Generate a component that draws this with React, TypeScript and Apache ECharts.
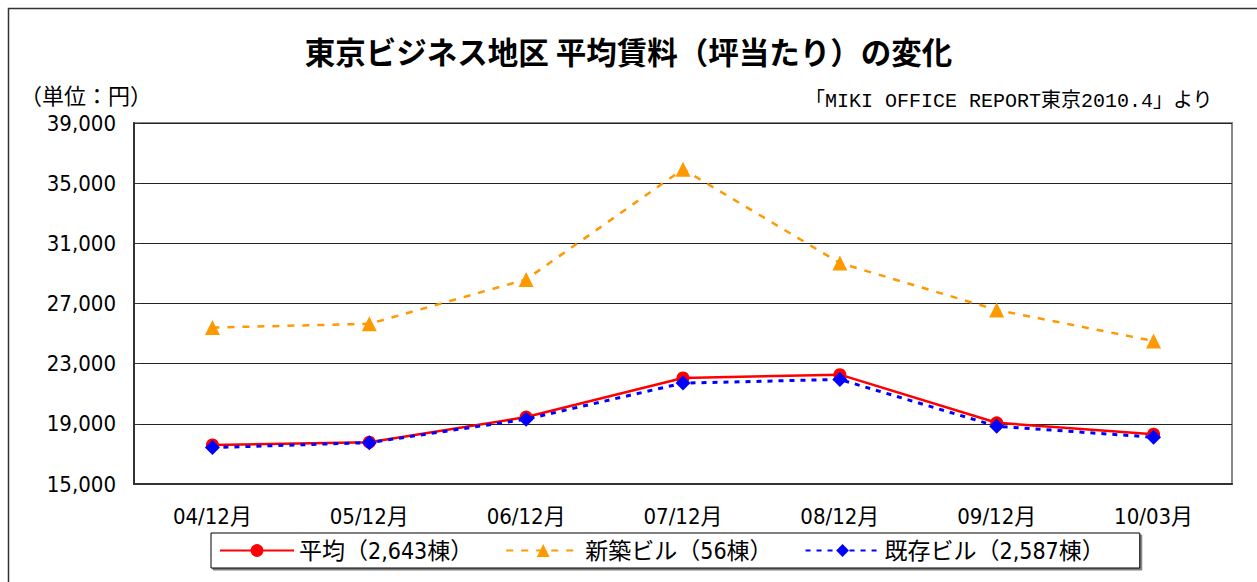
import React, { useEffect, useRef } from "react";
import * as echarts from "echarts";

const categories = ["04/12月", "05/12月", "06/12月", "07/12月", "08/12月", "09/12月", "10/03月"];
const avgValues = [17600, 17780, 19450, 22050, 22270, 19070, 18310];
const newValues = [25400, 25650, 28600, 35930, 29690, 26570, 24510];
const existValues = [17420, 17750, 19310, 21710, 21950, 18840, 18110];
const seriesNames = ["平均（2,643棟）", "新築ビル（56棟）", "既存ビル（2,587棟）"];
const titleText = "東京ビジネス地区 平均賃料（坪当たり）の変化";
const unitText = "（単位：円）";
const sourceText = "「MIKI OFFICE REPORT東京2010.4」より";

const FONT = "'DejaVu Sans Condensed', 'Liberation Sans Narrow', 'Noto Sans CJK JP', sans-serif";
const MONO = "'Liberation Mono', 'Noto Sans CJK JP', monospace";
const CJK = "'Noto Sans CJK JP', sans-serif";

export default function App() {
  const ref = useRef<HTMLDivElement>(null);
  useEffect(() => {
    if (!ref.current) return;
    const chart = echarts.init(ref.current, null, { renderer: "svg" });
    chart.setOption({
      animation: false,
      backgroundColor: "#fff",
      title: {
        text: titleText,
        left: "center",
        top: 31,
        textStyle: { fontFamily: CJK, fontSize: 30.5, fontWeight: "bold", color: "#000" },
      },
      graphic: [
        {
          type: "rect",
          shape: { x: 8.5, y: 8.5, width: 1270, height: 600 },
          style: { fill: "none", stroke: "#333", lineWidth: 1.5 },
          silent: true,
        },
        {
          type: "text",
          left: 20,
          top: 83,
          style: { text: unitText, fontFamily: CJK, fontSize: 22, fill: "#000" },
        },
        {
          type: "text",
          right: 44,
          top: 91,
          style: { text: sourceText, fontFamily: MONO, fontSize: 20, fill: "#000" },
        },
      ],
      grid: {
        left: 134,
        right: 25,
        top: 123,
        bottom: 98,
        show: true,
        borderColor: "#888",
        borderWidth: 2,
        backgroundColor: "#fff",
      },
      legend: {
        left: 211,
        top: 533,
        itemGap: 32,
        itemWidth: 74,
        itemHeight: 16,
        padding: [6, 35, 6, 8],
        borderColor: "#000",
        borderWidth: 1,
        backgroundColor: "#fff",
        shadowColor: "rgba(0,0,0,0.5)",
        shadowOffsetX: 2,
        shadowOffsetY: 2,
        shadowBlur: 0,
        textStyle: { fontFamily: FONT, fontSize: 23, color: "#000" },
        data: seriesNames,
      },
      xAxis: {
        type: "category",
        data: categories,
        boundaryGap: true,
        axisLine: { lineStyle: { color: "#333", width: 2 } },
        axisTick: { inside: true, length: 6, lineStyle: { color: "#333" } },
        axisLabel: { fontFamily: FONT, fontSize: 22, color: "#000", margin: 21 },
      },
      yAxis: {
        type: "value",
        min: 15000,
        max: 39000,
        interval: 4000,
        axisLine: { show: true, lineStyle: { color: "#333", width: 2 } },
        axisTick: { show: true, inside: true, length: 6, lineStyle: { color: "#333" } },
        splitLine: { lineStyle: { color: "#222", width: 1 } },
        axisLabel: {
          fontFamily: FONT,
          fontSize: 22,
          color: "#000",
          margin: 18,
          formatter: (v: number) => v.toLocaleString("en-US"),
        },
      },
      series: [
        {
          name: seriesNames[0],
          type: "line",
          data: avgValues,
          color: "#FF0000",
          symbol: "circle",
          symbolSize: 13,
          lineStyle: { color: "#FF0000", width: 2.5 },
          itemStyle: { color: "#FF0000" },
          z: 3,
        },
        {
          name: seriesNames[1],
          type: "line",
          data: newValues,
          color: "#FF9900",
          symbol: "triangle",
          symbolSize: 15,
          lineStyle: { color: "#FF9900", width: 2.5, type: [7, 8] },
          itemStyle: { color: "#FF9900" },
          z: 2,
        },
        {
          name: seriesNames[2],
          type: "line",
          data: existValues,
          color: "#0000FF",
          symbol: "diamond",
          symbolSize: 15,
          lineStyle: { color: "#0000FF", width: 3, type: [5, 6] },
          itemStyle: { color: "#0000FF" },
          z: 4,
        },
      ],
    });
    return () => chart.dispose();
  }, []);
  return (
    <div
      ref={ref}
      style={{ position: "fixed", left: 0, top: 0, width: 1257, height: 582 }}
    />
  );
}
